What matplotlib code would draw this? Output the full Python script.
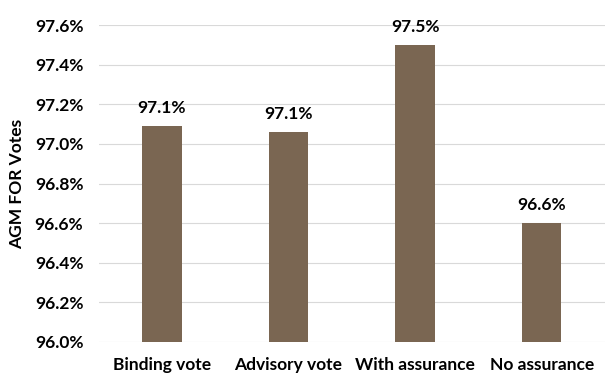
import matplotlib
matplotlib.use("Agg")
import matplotlib.pyplot as plt
from matplotlib.ticker import FuncFormatter

categories = ["Binding vote", "Advisory vote", "With assurance", "No assurance"]
values = [97.09, 97.06, 97.50, 96.60]
labels = ["97.1%", "97.1%", "97.5%", "96.6%"]

plt.rcParams["font.family"] = ["Lato", "DejaVu Sans"]
plt.rcParams["font.weight"] = "bold"

fig = plt.figure(figsize=(6.05, 3.74), dpi=100)
ax = fig.add_axes([0.163, 0.0856, 0.837, 0.847])

x = range(len(categories))
ax.bar(x, [v - 96.0 for v in values], bottom=96.0, width=0.31, color="#7a6652", zorder=3)

for xi, v, lab in zip(x, values, labels):
    ax.text(xi, v + 0.05, lab, ha="center", va="bottom", fontsize=12.5, fontweight="bold", color="#000000")

ax.set_ylim(96.0, 97.6)
ax.set_xlim(-0.5, 3.5)
ax.set_yticks([96.0 + 0.2 * i for i in range(9)])
ax.yaxis.set_major_formatter(FuncFormatter(lambda v, p: f"{v:.1f}%"))
ax.set_xticks(list(x))
ax.set_xticklabels(categories)
ax.grid(axis="y", color="#d9d9d9", linewidth=0.8, zorder=0)
for s in ax.spines.values():
    s.set_visible(False)
ax.tick_params(axis="both", length=0, labelsize=12.5)
ax.tick_params(axis="y", pad=11)
ax.tick_params(axis="x", pad=11)
ax.set_ylabel("AGM FOR Votes", fontsize=12.5, fontweight="bold", labelpad=7)

fig.savefig("out.png", dpi=100)
